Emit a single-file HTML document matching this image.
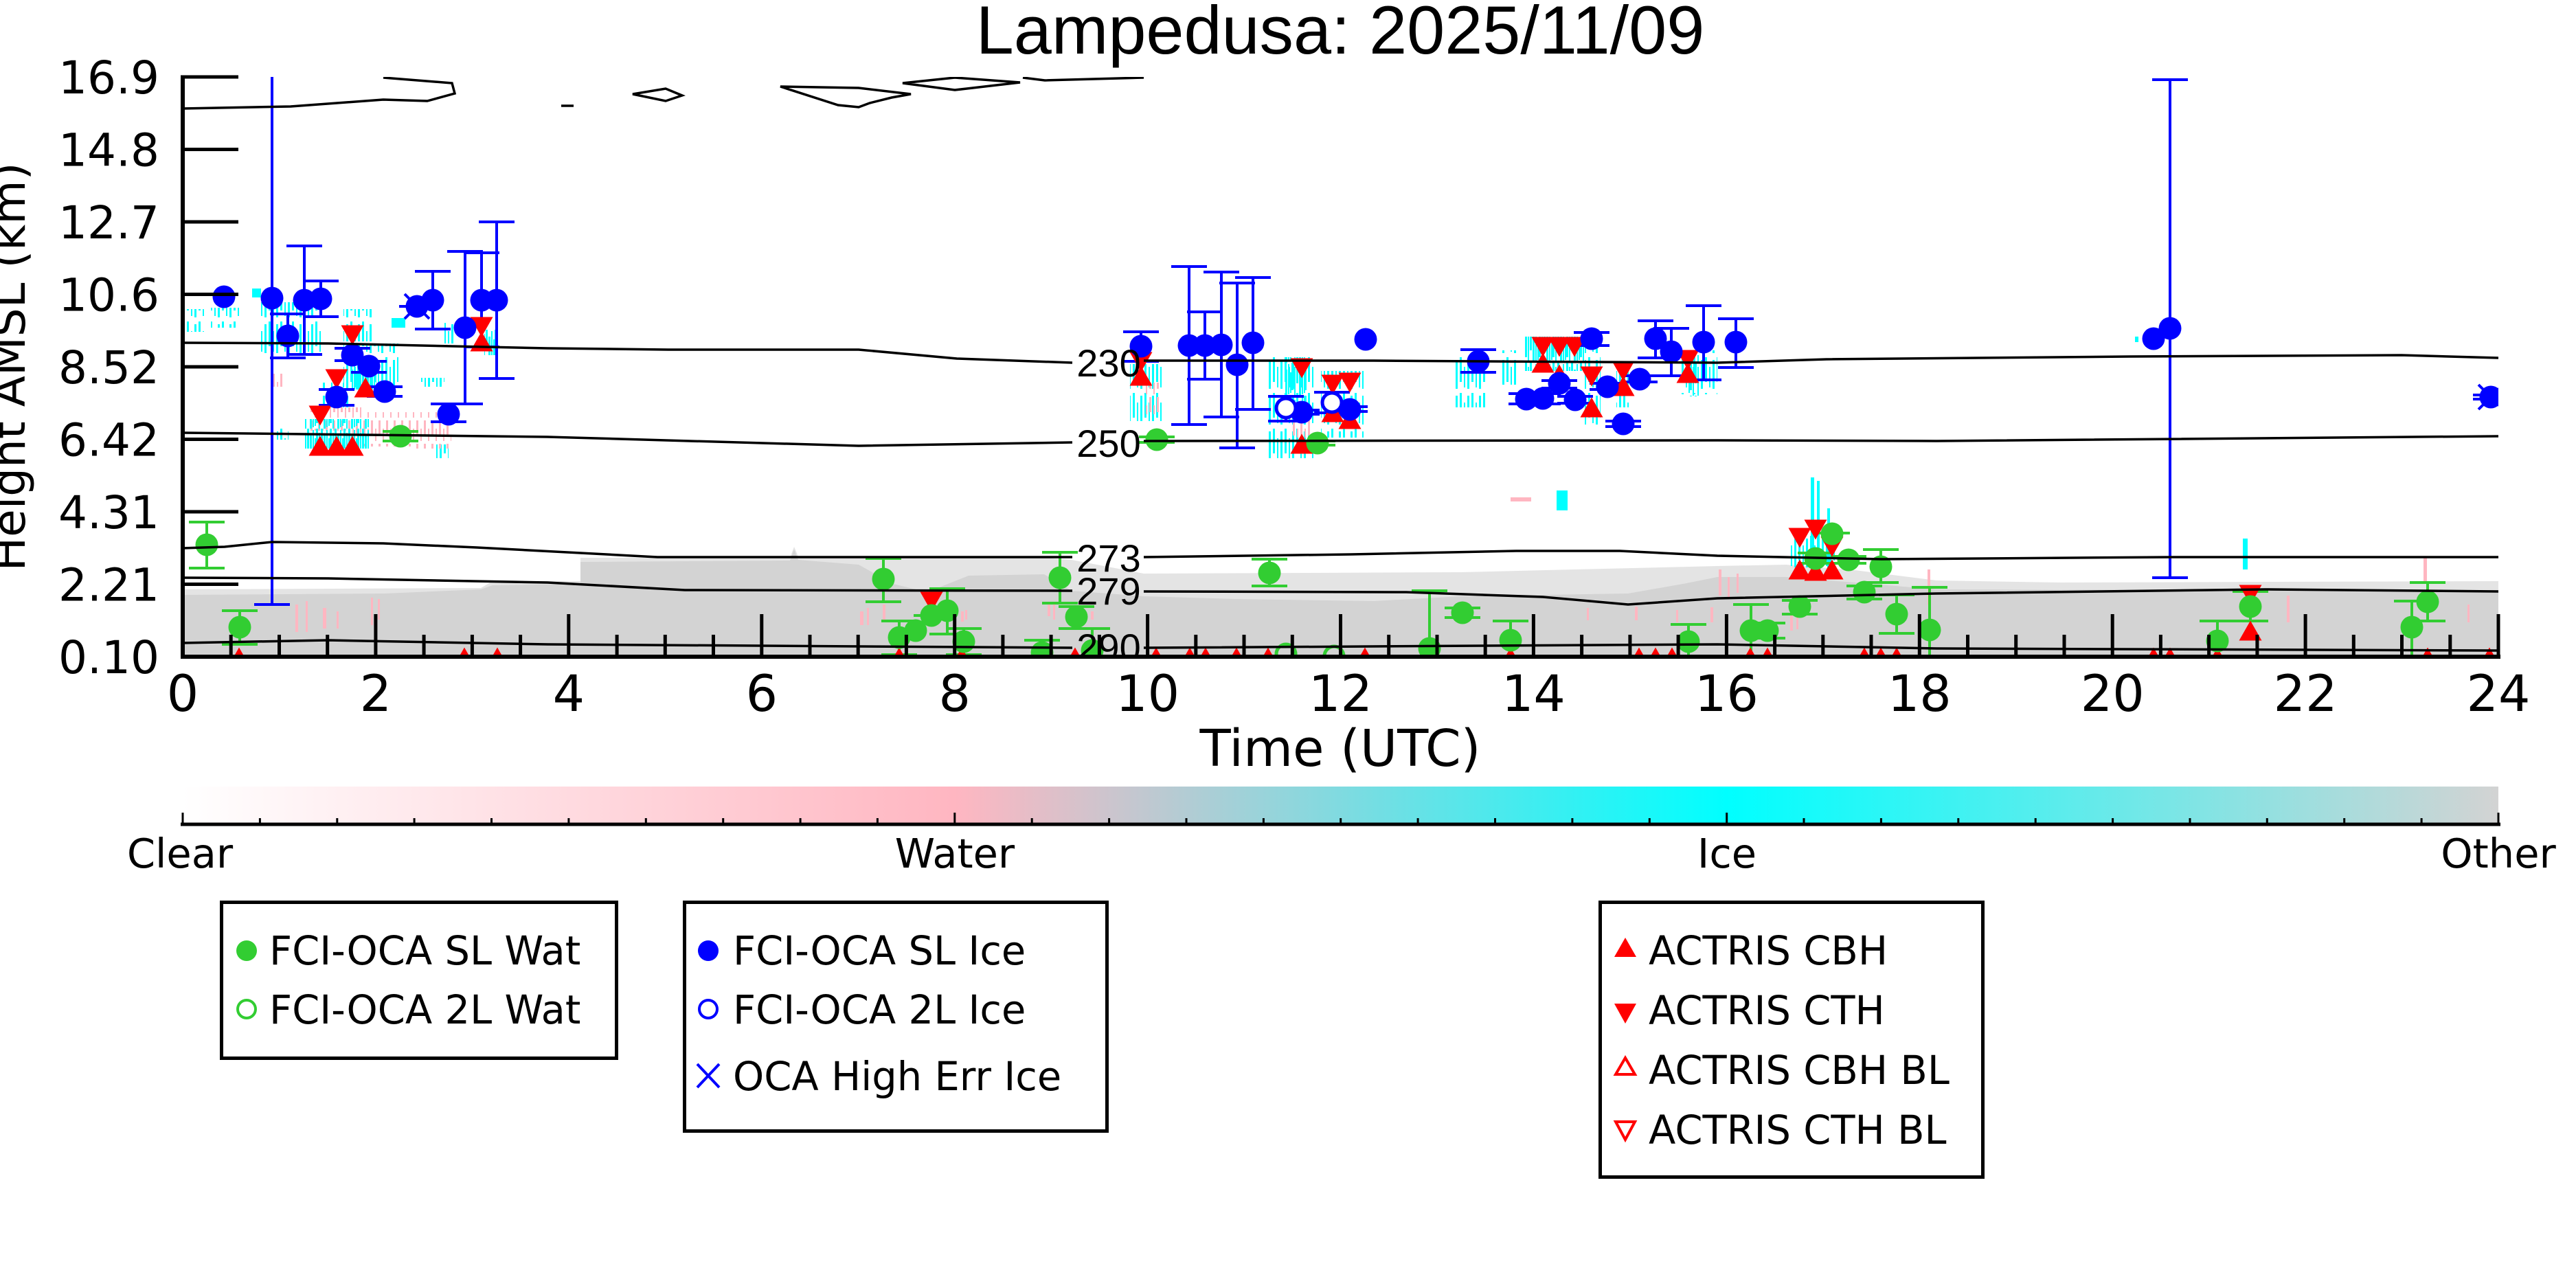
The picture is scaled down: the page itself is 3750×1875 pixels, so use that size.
<!DOCTYPE html>
<html><head><meta charset="utf-8"><style>html,body{margin:0;padding:0;background:#fff}svg{display:block}</style></head>
<body>
<svg xmlns="http://www.w3.org/2000/svg" width="3750" height="1875" viewBox="0 0 3750 1875">
<defs>
<clipPath id="pc"><rect x="266" y="112" width="3371" height="845"/></clipPath>
<pattern id="cs" patternUnits="userSpaceOnUse" width="17" height="52"><rect x="0" y="0" width="3" height="36" fill="#00FFFF"/><rect x="6" y="14" width="2" height="30" fill="#00FFFF"/><rect x="11" y="4" width="3" height="42" fill="#00FFFF"/></pattern>
<pattern id="cd" patternUnits="userSpaceOnUse" width="20" height="48"><rect x="0" y="0" width="3" height="40" fill="#00FFFF"/><rect x="4" y="6" width="2" height="42" fill="#00FFFF"/><rect x="7" y="0" width="3" height="30" fill="#00FFFF"/><rect x="11" y="10" width="3" height="38" fill="#00FFFF"/><rect x="15" y="2" width="2" height="44" fill="#00FFFF"/><rect x="18" y="14" width="2" height="30" fill="#00FFFF"/></pattern>
<pattern id="ps" patternUnits="userSpaceOnUse" width="11" height="34"><rect x="1" y="0" width="3" height="22" fill="#FFB6C1"/><rect x="7" y="12" width="2" height="18" fill="#FFB6C1"/></pattern>
<linearGradient id="cb" x1="0" y1="0" x2="1" y2="0">
<stop offset="0" stop-color="#FFFFFF"/><stop offset="0.3333" stop-color="#FFB6C1"/><stop offset="0.6667" stop-color="#00FFFF"/><stop offset="1" stop-color="#D3D3D3"/>
</linearGradient>
</defs>
<rect width="3750" height="1875" fill="#fff"/>

<text x="1951" y="78" font-family="'Liberation Sans', Arial, sans-serif" font-size="99" text-anchor="middle" fill="#000">Lampedusa: 2025/11/09</text>

<g clip-path="url(#pc)">
<polygon fill="#e4e4e4" points="266,858 700,856 717,846 845,846 845,812 1150,812 1156,796 1162,810 1250,810 1400,812 1520,812 1560,815 1665,835 2127,833 2250,830 2500,824 2600,822 2700,830 2819,845 3000,848 3637,846 3637,957 266,957"/>
<polygon fill="#D3D3D3" points="266,866 560,864 700,858 717,852 845,850 845,818 1150,816 1156,800 1162,815 1250,822 1300,850 1350,862 1410,838 1520,836 1560,860 1665,868 1800,872 2000,875 2127,868 2370,864 2450,850 2500,840 2600,840 2700,848 2819,858 3637,860 3637,957 266,957"/>
<g fill="#FFB6C1">
<rect x="430" y="880" width="4" height="40"/><rect x="445" y="875" width="3" height="45"/><rect x="470" y="885" width="5" height="30"/><rect x="490" y="890" width="3" height="25"/><rect x="540" y="870" width="3" height="40"/><rect x="550" y="872" width="3" height="30"/>
<rect x="1252" y="890" width="5" height="20"/><rect x="1262" y="885" width="3" height="25"/><rect x="1285" y="880" width="4" height="22"/><rect x="1399" y="890" width="4" height="15"/><rect x="1405" y="888" width="3" height="14"/>
<rect x="1525" y="877" width="4" height="20"/><rect x="1533" y="880" width="3" height="22"/><rect x="1588" y="890" width="4" height="12"/>
<rect x="2310" y="885" width="3" height="18"/><rect x="2380" y="883" width="4" height="20"/><rect x="2440" y="888" width="3" height="18"/><rect x="2490" y="884" width="4" height="22"/>
<rect x="2502" y="829" width="4" height="38"/><rect x="2515" y="840" width="3" height="30"/><rect x="2528" y="835" width="3" height="28"/>
<rect x="2606" y="886" width="4" height="32"/><rect x="2615" y="890" width="3" height="26"/><rect x="2806" y="829" width="4" height="51"/>
<rect x="3329" y="867" width="4" height="39"/><rect x="3528" y="810" width="5" height="38"/><rect x="3592" y="880" width="3" height="26"/>
<rect x="2199" y="724" width="30" height="6"/>
</g>
<rect x="270" y="450" width="30" height="33" fill="url(#cs)"/>
<rect x="307" y="448" width="43" height="29" fill="url(#cs)"/>
<rect x="367" y="420" width="13" height="13" fill="#00FFFF"/>
<rect x="378" y="440" width="92" height="80" fill="url(#cs)"/>
<rect x="500" y="450" width="43" height="47" fill="url(#cs)"/>
<rect x="500" y="500" width="80" height="67" fill="url(#cs)"/>
<rect x="512" y="528" width="36" height="39" fill="url(#cd)"/>
<rect x="470" y="557" width="40" height="36" fill="url(#cs)"/>
<rect x="570" y="463" width="20" height="14" fill="#00FFFF"/>
<rect x="613" y="550" width="34" height="13" fill="url(#cs)"/>
<rect x="647" y="470" width="16" height="30" fill="url(#cs)"/>
<rect x="705" y="480" width="20" height="37" fill="url(#cd)"/>
<rect x="450" y="593" width="77" height="34" fill="url(#ps)"/>
<rect x="510" y="600" width="144" height="50" fill="url(#ps)"/>
<rect x="443" y="610" width="94" height="43" fill="url(#cd)"/>
<rect x="403" y="623" width="17" height="17" fill="url(#cs)"/>
<rect x="633" y="647" width="20" height="20" fill="url(#cs)"/>
<rect x="603" y="633" width="54" height="20" fill="url(#ps)"/>
<rect x="397" y="543" width="16" height="20" fill="url(#ps)"/>

<rect x="1645" y="530" width="46" height="83" fill="url(#cs)"/>
<rect x="1665" y="557" width="23" height="46" fill="url(#ps)"/>
<rect x="1847" y="517" width="66" height="150" fill="url(#cs)"/>
<rect x="1870" y="520" width="32" height="85" fill="url(#cd)"/>
<rect x="1882" y="610" width="25" height="27" fill="url(#ps)"/>
<rect x="1923" y="540" width="62" height="97" fill="url(#cs)"/>
<rect x="2119" y="517" width="44" height="76" fill="url(#cs)"/>
<rect x="2187" y="510" width="20" height="50" fill="url(#cs)"/>
<rect x="2220" y="490" width="87" height="50" fill="url(#cd)"/>
<rect x="2307" y="507" width="23" height="116" fill="url(#cs)"/>
<rect x="2353" y="540" width="20" height="53" fill="url(#cs)"/>
<rect x="2446" y="510" width="54" height="64" fill="url(#cs)"/>
<rect x="2457" y="517" width="16" height="60" fill="url(#cd)"/>
<rect x="2266" y="714" width="16" height="29" fill="#00FFFF"/>
<rect x="2636" y="695" width="5" height="134" fill="#00FFFF"/>
<rect x="2645" y="700" width="4" height="129" fill="#00FFFF"/>
<rect x="2660" y="740" width="4" height="89" fill="#00FFFF"/>
<rect x="2604" y="770" width="67" height="59" fill="url(#cs)"/>
<rect x="3265" y="784" width="7" height="45" fill="#00FFFF"/>
<rect x="3108" y="490" width="5" height="8" fill="#00FFFF"/>

<path fill="none" stroke="#0000FF" stroke-width="4" d="M396 112V880M370 880H422M419 457V521M393 457H445M393 521H445M443 358V516M417 358H469M417 516H469M467 409V461M441 409H493M441 461H493M513 507V525M487 507H539M487 525H539M537 526V542M511 526H563M511 542H563M490 567V590M464 567H516M464 590H516M560 563V577M534 563H586M534 577H586M581 446H633M630 395V479M604 395H656M604 479H656M653 588V614M627 588H679M627 614H679M677 366V588M651 366H703M651 588H703M701 368V505M675 368H727M675 505H727M723 323V551M697 323H749M697 551H749M1661 483V526M1635 483H1687M1635 526H1687M1731 388V618M1705 388H1757M1705 618H1757M1754 454V552M1728 454H1780M1728 552H1780M1778 396V607M1752 396H1804M1752 607H1804M1801 412V652M1775 412H1827M1775 652H1827M1824 404V596M1798 404H1850M1798 596H1850M1872 577V613M1846 577H1898M1846 613H1898M1869 597H1921M1869 603H1921M1939 571V601M1913 571H1965M1913 601H1965M1939 592H1991M1939 599H1991M2152 509V542M2126 509H2178M2126 542H2178M2196 573H2248M2196 588H2248M2220 573H2272M2220 588H2272M2244 554H2296M2244 565H2296M2267 577H2319M2267 587H2319M2317 484V503M2291 484H2343M2291 503H2343M2314 558H2366M2314 567H2366M2337 613H2389M2337 621H2389M2361 547H2413M2361 556H2413M2410 467V521M2384 467H2436M2384 521H2436M2433 478V547M2407 478H2459M2407 547H2459M2480 445V553M2454 445H2506M2454 553H2506M2527 464V535M2501 464H2553M2501 535H2553M3159 116V841M3133 116H3185M3133 841H3185M3600 575H3652M3600 581H3652"/>
<path fill="none" stroke="#32CD32" stroke-width="4" d="M301 760V827M275 760H327M275 827H327M349 889V938M323 889H375M323 938H375M557 628H609M557 642H609M1286 813V876M1260 813H1312M1260 876H1312M1309 904V953M1283 904H1335M1283 953H1335M1330 896H1356M1379 857V923M1353 857H1405M1353 923H1405M1403 915V953M1377 915H1429M1377 953H1429M1517 932V960M1491 932H1543M1543 804V878M1517 804H1569M1517 878H1569M1567 883V915M1541 883H1593M1541 915H1593M1590 915V960M1564 915H1616M1658 636H1710M1658 644H1710M1848 814V853M1822 814H1874M1822 853H1874M1892 642H1944M1892 648H1944M2081 860V960M2055 860H2107M2103 885H2155M2103 899H2155M2199 904V960M2173 904H2225M2458 909V960M2432 909H2484M2549 880V960M2523 880H2575M2547 907H2599M2547 929H2599M2594 874H2646M2594 894H2646M2617 805H2669M2617 820H2669M2641 776H2693M2665 810H2717M2665 820H2717M2714 853V872M2688 853H2740M2688 872H2740M2738 800V848M2712 800H2764M2712 848H2764M2761 866V922M2735 866H2787M2735 922H2787M2809 855V960M2783 855H2835M3228 904V960M3202 904H3254M3276 861V904M3250 861H3302M3250 904H3302M3511 875V960M3485 875H3537M3534 848V904M3508 848H3560M3508 904H3560"/>

<path fill="#FF0000" d="M496.5 473.5h33l-16.5 29zM473.5 537.5h33l-16.5 29zM449.5 590.5h33l-16.5 29zM684.5 461.5h33l-16.5 29zM1644.5 512.5h33l-16.5 29zM1878.5 521.5h33l-16.5 29zM1923.5 545.5h33l-16.5 29zM1948.5 542.5h33l-16.5 29zM2229.5 490.5h33l-16.5 29zM2253.5 490.5h33l-16.5 29zM2275.5 490.5h33l-16.5 29zM2300.5 533.5h33l-16.5 29zM2346.5 525.5h33l-16.5 29zM2440.5 509.5h33l-16.5 29zM1339.5 861.5h33l-16.5 29zM2603.5 768.5h33l-16.5 29zM2626.5 756.5h33l-16.5 29zM2650.5 781.5h33l-16.5 29zM3259.5 851.5h33l-16.5 29z
M449.5 663.5l16.5-29 16.5 29zM473.5 663.5l16.5-29 16.5 29zM496.5 663.5l16.5-29 16.5 29zM515.5 578.5l16.5-29 16.5 29zM684.5 511.5l16.5-29 16.5 29zM1644.5 561.5l16.5-29 16.5 29zM1878.5 660.5l16.5-29 16.5 29zM1923.5 614.5l16.5-29 16.5 29zM1948.5 624.5l16.5-29 16.5 29zM2229.5 542.5l16.5-29 16.5 29zM2253.5 559.5l16.5-29 16.5 29zM2300.5 607.5l16.5-29 16.5 29zM2346.5 576.5l16.5-29 16.5 29zM2440.5 557.5l16.5-29 16.5 29zM2603.5 843.5l16.5-29 16.5 29zM2626.5 845.5l16.5-29 16.5 29zM2650.5 843.5l16.5-29 16.5 29zM3259.5 932.5l16.5-29 16.5 29z
M331.5 971.5l16.5-29 16.5 29zM659.5 971.5l16.5-29 16.5 29zM707.5 971.5l16.5-29 16.5 29zM1292.5 971.5l16.5-29 16.5 29zM1383.5 971.5l16.5-29 16.5 29zM1548.5 971.5l16.5-29 16.5 29zM1666.5 971.5l16.5-29 16.5 29zM1715.5 971.5l16.5-29 16.5 29zM1738.5 971.5l16.5-29 16.5 29zM1783.5 971.5l16.5-29 16.5 29zM1829.5 971.5l16.5-29 16.5 29zM1970.5 971.5l16.5-29 16.5 29zM2182.5 971.5l16.5-29 16.5 29zM2369.5 971.5l16.5-29 16.5 29zM2393.5 971.5l16.5-29 16.5 29zM2417.5 971.5l16.5-29 16.5 29zM2531.5 971.5l16.5-29 16.5 29zM2556.5 971.5l16.5-29 16.5 29zM2697.5 971.5l16.5-29 16.5 29zM2721.5 971.5l16.5-29 16.5 29zM2744.5 971.5l16.5-29 16.5 29zM3118.5 971.5l16.5-29 16.5 29zM3142.5 971.5l16.5-29 16.5 29zM3211.5 971.5l16.5-29 16.5 29zM3517.5 971.5l16.5-29 16.5 29zM3607.5 971.5l16.5-29 16.5 29z"/>

<g fill="#32CD32">
<circle cx="301" cy="793" r="16.5"/><circle cx="349" cy="913" r="16.5"/><circle cx="583" cy="635" r="16.5"/><circle cx="1286" cy="843" r="16.5"/><circle cx="1309" cy="928" r="16.5"/><circle cx="1333" cy="918" r="16.5"/><circle cx="1356" cy="896" r="16.5"/><circle cx="1379" cy="889" r="16.5"/><circle cx="1403" cy="934" r="16.5"/><circle cx="1517" cy="950" r="16.5"/><circle cx="1543" cy="841" r="16.5"/><circle cx="1567" cy="898" r="16.5"/><circle cx="1590" cy="947" r="16.5"/><circle cx="1684" cy="640" r="16.5"/><circle cx="1848" cy="834" r="16.5"/><circle cx="1918" cy="645" r="16.5"/><circle cx="2081" cy="944" r="16.5"/><circle cx="2129" cy="892" r="16.5"/><circle cx="2199" cy="932" r="16.5"/><circle cx="2458" cy="934" r="16.5"/><circle cx="2549" cy="918" r="16.5"/><circle cx="2573" cy="918" r="16.5"/><circle cx="2620" cy="883" r="16.5"/><circle cx="2643" cy="813" r="16.5"/><circle cx="2667" cy="777" r="16.5"/><circle cx="2691" cy="815" r="16.5"/><circle cx="2714" cy="862" r="16.5"/><circle cx="2738" cy="825" r="16.5"/><circle cx="2761" cy="894" r="16.5"/><circle cx="2809" cy="917" r="16.5"/><circle cx="3228" cy="933" r="16.5"/><circle cx="3276" cy="883" r="16.5"/><circle cx="3511" cy="913" r="16.5"/><circle cx="3534" cy="876" r="16.5"/>
</g>
<g fill="none" stroke="#32CD32" stroke-width="5"><circle cx="1872" cy="952" r="14"/><circle cx="1942" cy="955" r="14"/></g>

<g fill="#0000FF">
<circle cx="326" cy="432" r="16.5"/><circle cx="396" cy="434" r="16.5"/><circle cx="419" cy="489" r="16.5"/><circle cx="443" cy="437" r="16.5"/><circle cx="467" cy="435" r="16.5"/><circle cx="513" cy="517" r="16.5"/><circle cx="537" cy="533" r="16.5"/><circle cx="490" cy="578" r="16.5"/><circle cx="560" cy="570" r="16.5"/><circle cx="607" cy="446" r="16.5"/><circle cx="630" cy="437" r="16.5"/><circle cx="653" cy="603" r="16.5"/><circle cx="677" cy="477" r="16.5"/><circle cx="701" cy="437" r="16.5"/><circle cx="723" cy="437" r="16.5"/>
<circle cx="1661" cy="504" r="16.5"/><circle cx="1731" cy="503" r="16.5"/><circle cx="1754" cy="503" r="16.5"/><circle cx="1778" cy="502" r="16.5"/><circle cx="1801" cy="531" r="16.5"/><circle cx="1824" cy="499" r="16.5"/><circle cx="1988" cy="494" r="16.5"/><circle cx="1895" cy="600" r="16.5"/><circle cx="1965" cy="596" r="16.5"/>
<circle cx="2152" cy="526" r="16.5"/><circle cx="2222" cy="581" r="16.5"/><circle cx="2246" cy="580" r="16.5"/><circle cx="2270" cy="558" r="16.5"/><circle cx="2293" cy="582" r="16.5"/><circle cx="2317" cy="493" r="16.5"/><circle cx="2340" cy="563" r="16.5"/><circle cx="2363" cy="617" r="16.5"/><circle cx="2387" cy="552" r="16.5"/><circle cx="2410" cy="493" r="16.5"/><circle cx="2433" cy="512" r="16.5"/><circle cx="2480" cy="498" r="16.5"/><circle cx="2527" cy="498" r="16.5"/>
<circle cx="3135" cy="493" r="16.5"/><circle cx="3159" cy="478" r="16.5"/><circle cx="3626" cy="578" r="16.5"/>
</g>
<g fill="#fff" stroke="#0000FF" stroke-width="5"><circle cx="1872" cy="594" r="14"/><circle cx="1939" cy="586" r="14"/></g>
<path stroke="#0000FF" stroke-width="4" fill="none" d="M589 428L625 464M625 428L589 464M3608 560L3644 596M3644 560L3608 596"/>

<path fill="none" stroke="#000" stroke-width="3.5" d="M266 499L478 500L797 507L973 509L1250 509L1393 522L1561 528M1665 525L2000 525L2500 528L2659 523L3100 519L3496 517L3637 521
M266 630L797 636L1250 649L1561 644M1665 642L2500 641L2819 642L3637 635
M266 798L327 796L396 789L558 791L694 797L957 811L1561 811M1665 811L1967 807L2207 802L2358 802L2500 809L2739 814L3162 811L3637 811
M266 841L478 842L797 848L997 859L1561 860M1665 861L2047 862L2246 869L2370 880L2500 871L2819 864L3297 858L3637 861
M266 936L478 932L797 938L1561 943M1665 943L2500 938L2819 944L3637 947
M266 158L423 155L558 145L622 147L662 136L658 121L558 113M817 154H835M921 137L969 129L993 139L969 147ZM1136 126L1250 128L1326 137L1298 142L1266 150L1250 156L1220 153ZM1314 121L1390 113L1485 120L1390 131ZM1489 113L1521 117L1665 113"/>
<g font-family="'Liberation Sans', Arial, sans-serif" font-size="56" text-anchor="middle" fill="#000">
<text x="1614" y="548">230</text><text x="1614" y="665">250</text><text x="1614" y="832">273</text><text x="1614" y="880">279</text><text x="1614" y="962">290</text>
</g>
</g>

<path fill="none" stroke="#000" stroke-width="6" d="M266 109.5V959M263 956H3640"/>
<path fill="none" stroke="#000" stroke-width="5" d="M266 112H347M266 217.5H347M266 323H347M266 428.5H347M266 534H347M266 639.5H347M266 745H347M266 850.5H347
M546.9 894V956M827.8 894V956M1108.8 894V956M1389.7 894V956M1670.6 894V956M1951.5 894V956M2232.4 894V956M2513.4 894V956M2794.3 894V956M3075.2 894V956M3356.1 894V956M3637 894V956
M336.2 924V956M406.5 924V956M476.7 924V956M617.1 924V956M687.4 924V956M757.6 924V956M898.1 924V956M968.3 924V956M1038.5 924V956M1179 924V956M1249.2 924V956M1319.4 924V956M1459.9 924V956M1530.1 924V956M1600.4 924V956M1740.8 924V956M1811 924V956M1881.3 924V956M2021.7 924V956M2092 924V956M2162.2 924V956M2302.6 924V956M2372.9 924V956M2443.1 924V956M2583.6 924V956M2653.8 924V956M2724 924V956M2864.5 924V956M2934.7 924V956M3005 924V956M3145.4 924V956M3215.6 924V956M3285.9 924V956M3426.3 924V956M3496.5 924V956M3566.8 924V956"/>

<g font-family="'DejaVu Sans', sans-serif" font-size="66" text-anchor="end" fill="#000">
<text x="232" y="136">16.9</text><text x="232" y="241.5">14.8</text><text x="232" y="347">12.7</text><text x="232" y="452.5">10.6</text><text x="232" y="558">8.52</text><text x="232" y="663.5">6.42</text><text x="232" y="769">4.31</text><text x="232" y="874.5">2.21</text><text x="232" y="980">0.10</text>
</g>
<g font-family="'DejaVu Sans', sans-serif" font-size="73" text-anchor="middle" fill="#000">
<text x="266" y="1035">0</text><text x="546.9" y="1035">2</text><text x="827.8" y="1035">4</text><text x="1108.8" y="1035">6</text><text x="1389.7" y="1035">8</text><text x="1670.6" y="1035">10</text><text x="1951.5" y="1035">12</text><text x="2232.4" y="1035">14</text><text x="2513.4" y="1035">16</text><text x="2794.3" y="1035">18</text><text x="3075.2" y="1035">20</text><text x="3356.1" y="1035">22</text><text x="3637" y="1035">24</text>
</g>
<text x="1951" y="1115" font-family="'DejaVu Sans', sans-serif" font-size="74" text-anchor="middle" fill="#000">Time (UTC)</text>
<text transform="translate(36,534) rotate(-90)" font-family="'DejaVu Sans', sans-serif" font-size="66" text-anchor="middle" fill="#000">Height AMSL (km)</text>

<rect x="266" y="1145" width="3371" height="53" fill="url(#cb)"/>
<path fill="none" stroke="#000" stroke-width="5" d="M263 1200H3640"/>
<path fill="none" stroke="#000" stroke-width="3" d="M266 1183V1198M1389.8 1183V1198M2513.7 1183V1198M3637 1183V1198
M378.4 1191V1198M490.8 1191V1198M603.1 1191V1198M715.5 1191V1198M827.9 1191V1198M940.3 1191V1198M1052.7 1191V1198M1165.1 1191V1198M1277.4 1191V1198M1502.2 1191V1198M1614.6 1191V1198M1727 1191V1198M1839.4 1191V1198M1951.7 1191V1198M2064.1 1191V1198M2176.5 1191V1198M2288.9 1191V1198M2401.3 1191V1198M2626 1191V1198M2738.4 1191V1198M2850.8 1191V1198M2963.2 1191V1198M3075.6 1191V1198M3188 1191V1198M3300.3 1191V1198M3412.7 1191V1198M3525.1 1191V1198"/>
<g font-family="'DejaVu Sans', sans-serif" font-size="59" text-anchor="middle" fill="#000">
<text x="262" y="1263">Clear</text><text x="1390" y="1263">Water</text><text x="2514" y="1263">Ice</text><text x="3637" y="1263">Other</text>
</g>

<g fill="#fff" stroke="#000" stroke-width="5">
<rect x="322.5" y="1313.5" width="575" height="227"/>
<rect x="996.5" y="1313.5" width="615" height="333"/>
<rect x="2329.5" y="1313.5" width="557" height="400"/>
</g>
<circle cx="359" cy="1384" r="15" fill="#32CD32"/>
<circle cx="359" cy="1469" r="13" fill="none" stroke="#32CD32" stroke-width="4"/>
<circle cx="1031" cy="1384" r="15" fill="#0000FF"/>
<circle cx="1031" cy="1469" r="13" fill="none" stroke="#0000FF" stroke-width="4"/>
<path d="M1015 1549L1047 1583M1047 1549L1015 1583" stroke="#0000FF" stroke-width="4" fill="none"/>
<path fill="#FF0000" d="M2350 1393l16-28 16 28zM2350 1461h32l-16 29z"/>
<path fill="none" stroke="#FF0000" stroke-width="4" d="M2352 1564l14-24 14 24zM2352 1633h28l-14 26z"/>
<g font-family="'DejaVu Sans', sans-serif" font-size="57.5" fill="#000">
<text x="392" y="1404">FCI-OCA SL Wat</text>
<text x="392" y="1490">FCI-OCA 2L Wat</text>
<text x="1067" y="1404">FCI-OCA SL Ice</text>
<text x="1067" y="1490">FCI-OCA 2L Ice</text>
<text x="1067" y="1587">OCA High Err Ice</text>
<text x="2400" y="1404">ACTRIS CBH</text>
<text x="2400" y="1491">ACTRIS CTH</text>
<text x="2400" y="1578">ACTRIS CBH BL</text>
<text x="2400" y="1665">ACTRIS CTH BL</text>
</g>
</svg>
</body></html>
